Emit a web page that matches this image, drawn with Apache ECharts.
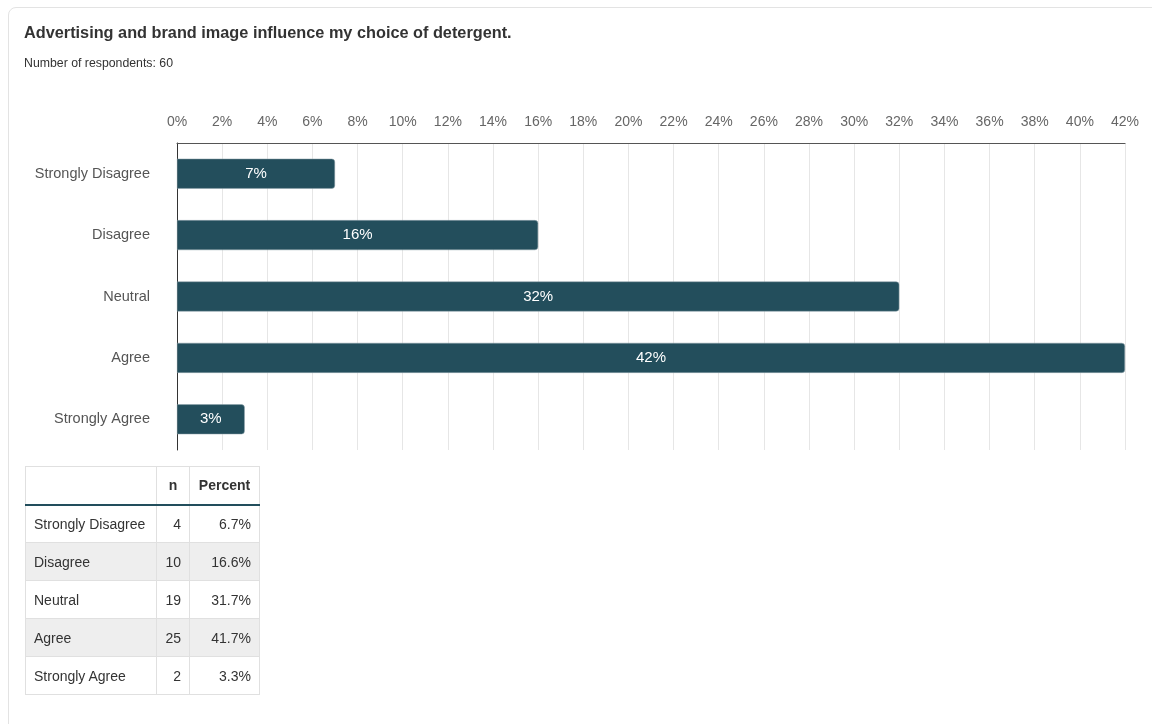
<!DOCTYPE html>
<html>
<head>
<meta charset="utf-8">
<script src="https://cdn.jsdelivr.net/npm/echarts@6/dist/echarts.min.js"></script>
<style>
  html, body { margin: 0; padding: 0; background: #fff; font-family: "Liberation Sans", Arial, sans-serif; }
  #wrap { position: relative; width: 1152px; height: 724px; overflow: hidden; }
  #card { position: absolute; left: 8px; top: 7px; width: 1200px; height: 760px; border: 1px solid #e3e3e3; border-radius: 8px; box-sizing: border-box; }
  #chart { position: absolute; left: 0; top: 0; width: 1152px; height: 724px; }
  #tbl { position: absolute; left: 25px; top: 466px; border-collapse: collapse; font-size: 14px; color: #333; }
  #tbl td, #tbl th { border: 1px solid #e0e0e0; height: 38px; padding: 0 8px; box-sizing: border-box; }
  #tbl th { font-weight: bold; text-align: center; border-bottom: 2px solid #224e5c; }
  #tbl td.num { text-align: right; }
  #tbl tr.alt td { background: #eeeeee; }
</style>
</head>
<body>
<div id="wrap">
  <div id="card"></div>
  <div id="chart"></div>
  <table id="tbl"></table>
</div>
<script>
const categories = ["Strongly Disagree", "Disagree", "Neutral", "Agree", "Strongly Agree"];
const barValues = [7, 16, 32, 42, 3];
const counts = [4, 10, 19, 25, 2];
const percents = ["6.7%", "16.6%", "31.7%", "41.7%", "3.3%"];
const titleText = "Advertising and brand image influence my choice of detergent.";
const subText = "Number of respondents: 60";

const chart = echarts.init(document.getElementById('chart'), null, { renderer: 'canvas' });
chart.setOption({
  animation: false,
  textStyle: { fontFamily: '"Liberation Sans", Arial, sans-serif' },
  title: {
    text: titleText,
    subtext: subText,
    left: 19,
    top: 19,
    itemGap: 14,
    textStyle: { fontSize: 16.3, fontWeight: 'bold', color: '#333', lineHeight: 19 },
    subtextStyle: { fontSize: 12.3, color: '#333', lineHeight: 14 }
  },
  grid: { left: 177, right: 27, top: 143, bottom: 274, containLabel: false },
  xAxis: {
    type: 'value',
    position: 'top',
    min: 0,
    max: 42,
    interval: 2,
    axisLine: { show: true, lineStyle: { color: '#555', width: 1 } },
    axisTick: { show: false },
    axisLabel: { formatter: '{value}%', color: '#666', fontSize: 14, margin: 14 },
    splitLine: { show: true, lineStyle: { color: '#e6e6e6', width: 1 } }
  },
  yAxis: {
    type: 'category',
    inverse: true,
    data: categories,
    axisLine: { show: true, lineStyle: { color: '#333', width: 1 } },
    axisTick: { show: false },
    axisLabel: { color: '#555', fontSize: 14.5, margin: 27 }
  },
  series: [{
    type: 'bar',
    data: barValues,
    barWidth: 30,
    itemStyle: { color: '#234e5c', borderRadius: [0, 3, 3, 0], borderColor: '#8fa3aa', borderWidth: 0.5 },
    label: { show: true, position: 'inside', formatter: '{c}%', color: '#fff', fontSize: 15 }
  }]
});

const tbl = document.getElementById('tbl');
let html = '<tr><th style="width:131px"></th><th style="width:33px">n</th><th style="width:70px">Percent</th></tr>';
categories.forEach((c, i) => {
  html += '<tr class="' + (i % 2 === 1 ? 'alt' : '') + '"><td>' + c + '</td><td class="num">' + counts[i] + '</td><td class="num">' + percents[i] + '</td></tr>';
});
tbl.innerHTML = html;
</script>
</body>
</html>
